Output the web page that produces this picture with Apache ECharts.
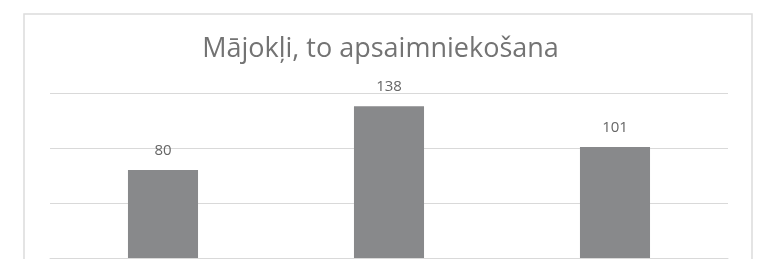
<!DOCTYPE html>
<html>
<head>
<meta charset="utf-8">
<script src="https://cdn.jsdelivr.net/npm/echarts@6/dist/echarts.min.js"></script>
<style>
html,body{margin:0;padding:0;background:#fff;}
#chart{width:761px;height:259px;}
</style>
</head>
<body>
<div id="chart"></div>
<script>
const titleText = 'Mājokļi, to apsaimniekošana';
const categories = ['1', '2', '3'];
const values = [80, 138, 101];
const yTicks = [0, 50, 100, 150];

const chart = echarts.init(document.getElementById('chart'), null, {renderer: 'canvas'});
chart.setOption({
  animation: false,
  backgroundColor: '#ffffff',
  title: {
    text: titleText,
    left: 'center',
    top: 31,
    textStyle: {fontFamily: 'Open Sans', fontSize: 27, fontWeight: 'normal', color: '#737373'}
  },
  graphic: [{
    type: 'rect',
    shape: {x: 24, y: 14, width: 728, height: 270},
    style: {fill: 'none', stroke: '#dcdcdc', lineWidth: 1.5},
    silent: true,
    z: -1
  }],
  grid: {left: 50, right: 33, top: 93, bottom: 1, containLabel: false},
  xAxis: {
    type: 'category',
    data: categories,
    axisLine: {show: true, lineStyle: {color: '#d9d9d9', width: 1}},
    axisTick: {show: false},
    axisLabel: {show: false}
  },
  yAxis: {
    type: 'value',
    min: yTicks[0],
    max: yTicks[yTicks.length - 1],
    interval: yTicks[1] - yTicks[0],
    axisLabel: {show: false},
    axisLine: {show: false},
    axisTick: {show: false},
    splitLine: {lineStyle: {color: '#d9d9d9', width: 1}}
  },
  series: [{
    type: 'bar',
    data: values,
    barWidth: '31%',
    itemStyle: {color: '#88898b'},
    label: {
      show: true,
      position: 'top',
      distance: 12,
      fontFamily: 'Open Sans',
      fontSize: 15,
      color: '#666666'
    }
  }]
});
</script>
</body>
</html>
